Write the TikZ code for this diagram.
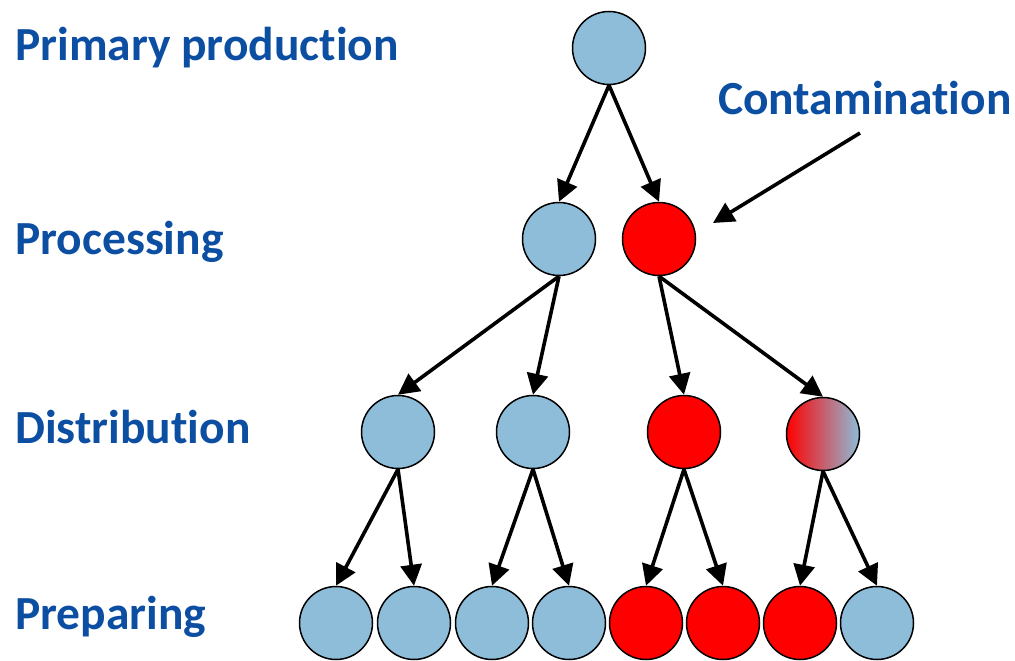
\documentclass[tikz,border=0pt]{standalone}
\usepackage{fontspec}
\setmainfont{Carlito}[Ligatures={NoCommon}]
\usetikzlibrary{arrows.meta}
\definecolor{lblue}{RGB}{141,189,217}
\definecolor{tblue}{RGB}{11,78,162}
\definecolor{cred}{RGB}{255,0,0}
\begin{document}
\begin{tikzpicture}[x=1pt,y=-1pt,
  circ/.style={circle,draw=black,line width=1.5pt,minimum size=73pt,inner sep=0pt},
  safe/.style={circ,fill=lblue},
  bad/.style={circ,fill=cred},
  mixed/.style={circ,left color=cred,right color=lblue},
  lbl/.style={anchor=base west,inner sep=0pt,text=tblue,font=\fontsize{47.5}{55}\selectfont\bfseries},
  arr/.style={line width=3.6pt,-{Triangle[length=21pt,width=21pt]}}]
\useasboundingbox (0,0) rectangle (1015,661);
\node[lbl] (t1) at (15,60) {Primary production};
\node[lbl] (t2) at (15,254) {Processing};
\node[lbl] (t3) at (15,443) {Distribution};
\node[lbl] (t4) at (15,629) {Preparing};
\node[lbl] (t5) at (718,114) {Contamination};
\node[safe] (a) at (609,48) {};
\node[safe] (b1) at (559,239) {};
\node[bad] (b2) at (659,239) {};
\node[safe] (c1) at (398,432) {};
\node[safe] (c2) at (533,432) {};
\node[bad] (c3) at (684,432) {};
\node[mixed] (c4) at (823,434) {};
\node[safe] (d1) at (336,623) {};
\node[safe] (d2) at (414,623) {};
\node[safe] (d3) at (492,623) {};
\node[safe] (d4) at (569,623) {};
\node[bad] (d5) at (646,623) {};
\node[bad] (d6) at (723,623) {};
\node[bad] (d7) at (800,623) {};
\node[safe] (d8) at (877,623) {};
\coordinate (cs) at (860,133);
\coordinate (ce) at (713,223);
\draw[arr] (a.south) -- (b1.north);
\draw[arr] (a.south) -- (b2.north);
\draw[arr] (b1.south) -- (c1.north);
\draw[arr] (b1.south) -- (c2.north);
\draw[arr] (b2.south) -- (c3.north);
\draw[arr] (b2.south) -- (c4.north);
\draw[arr] (c1.south) -- (d1.north);
\draw[arr] (c1.south) -- (d2.north);
\draw[arr] (c2.south) -- (d3.north);
\draw[arr] (c2.south) -- (d4.north);
\draw[arr] (c3.south) -- (d5.north);
\draw[arr] (c3.south) -- (d6.north);
\draw[arr] (c4.south) -- (d7.north);
\draw[arr] (c4.south) -- (d8.north);
\draw[arr] (cs) -- (ce);
\end{tikzpicture}
\end{document}
